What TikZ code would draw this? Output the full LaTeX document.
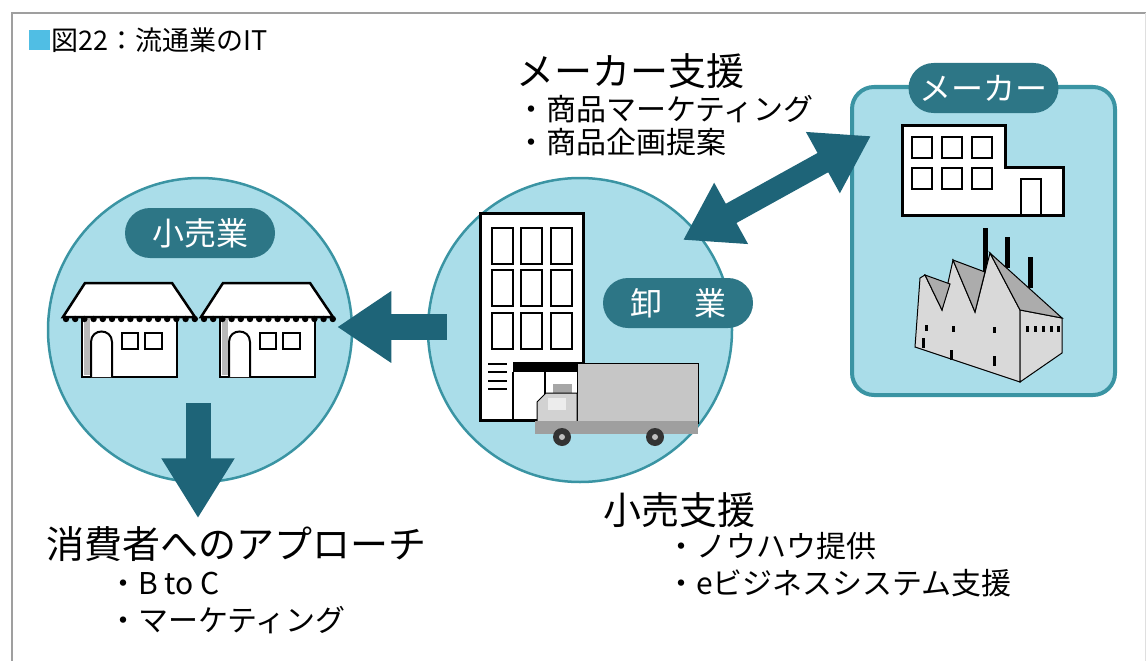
\documentclass[tikz,border=0pt]{standalone}
\usepackage{fontspec}
\setmainfont{Noto Sans CJK JP}
\usetikzlibrary{shapes,arrows,arrows.meta}

\definecolor{paleblue}{RGB}{170,221,233}
\definecolor{ringteal}{RGB}{58,148,163}
\definecolor{darkteal}{RGB}{30,100,120}
\definecolor{tagteal}{RGB}{45,118,134}
\definecolor{marker}{RGB}{80,190,228}

\tikzstyle{area} = [circle, draw=ringteal, line width=2.5pt, fill=paleblue,
    minimum size=304pt, inner sep=0pt]
\tikzstyle{plant} = [rectangle, draw=ringteal, line width=4pt, fill=paleblue,
    rounded corners=22pt, minimum width=263pt, minimum height=308pt]
\tikzstyle{tag} = [rectangle, fill=tagteal, text=white, rounded corners=25pt,
    minimum width=150pt, minimum height=50pt, inner sep=0pt, font=\fontsize{32}{32}\selectfont]
\tikzstyle{flow} = [draw=darkteal, line width=26pt, -{Triangle[length=54pt,width=68pt]}]
\tikzstyle{both} = [draw=darkteal, line width=22pt,
    {Triangle[length=55pt,width=66pt]}-{Triangle[length=55pt,width=66pt]}]
\tikzstyle{head} = [anchor=west, inner sep=0pt, font=\fontsize{38}{40}\selectfont]
\tikzstyle{item} = [anchor=west, inner sep=0pt, font=\fontsize{30}{32}\selectfont]
\tikzstyle{wall} = [draw=black, fill=white, line width=2.5pt]

\begin{document}
\begin{tikzpicture}[x=1pt, y=-1pt]
	\useasboundingbox (0,0) rectangle (1146,661);

	% frame and title
	\draw[gray!75, line width=2.5pt] (12,661) -- (12,13) -- (1146,13);
	\draw[gray!25, line width=1pt] (1145,13) -- (1145,661);
	\fill[marker] (29,30) rectangle (50,50);
	\node[anchor=west, inner sep=0pt, font=\fontsize{27}{27}\selectfont] (title) at (51,40) {図22：流通業のIT};

	% the three parties
	\node[area] (retail) at (200,330) {};
	\node[area] (wholesale) at (580,330) {};
	\node[plant] (maker) at (983.5,241) {};

	\coordinate (ws-port) at ([shift={(103pt,90pt)}]wholesale.center);
	\coordinate (mk-port) at ([shift={(21pt,105pt)}]maker.west);

	\path [flow] ([xshift=20pt, yshift=3pt]wholesale.west) -- ([xshift=-16pt, yshift=3pt]retail.east);
	\path [flow, line width=25pt, -{Triangle[length=60pt,width=69pt]}]
		([xshift=-2pt, yshift=80pt]retail.south) -- ([xshift=-2pt, yshift=-35pt]retail.south);
	\path [both] (ws-port) -- (mk-port);

	\node[tag, above of=retail, node distance=97pt] (retail-tag) {小売業};
	\node[tag] (ws-tag) at (678,303) {卸　業};
	\node[tag, above of=maker, node distance=153pt] (maker-tag) {メーカー};

	% shops
	\foreach \dx in {0,138} {
		\begin{scope}[xshift=\dx pt]
			\draw[wall] (82,317) rectangle (177,377);
			\fill[gray!55] (84,319) rectangle (90,375);
			\draw[black, line width=2pt, fill=white] (91,377) -- (91,342) .. controls (91,328) and (112,328) .. (112,342) -- (112,377);
			\draw[black, line width=2pt] (122,333) rectangle (138,349);
			\draw[black, line width=2pt] (145,333) rectangle (162,349);
			\draw[wall, line width=2.5pt] (85,283) -- (172,283) -- (195,317) -- (63,317) -- cycle;
			\foreach \k in {0,...,14}
				\fill (66+\k*9.2,319) circle (3.2pt);
		\end{scope}
	}

	% wholesale building
	\draw[wall, line width=3pt] (480,213) rectangle (583,420);
	\foreach \wx in {492,521,551}
		\foreach \wy in {228,270,313}
			\draw[black, line width=2pt] (\wx,\wy) rectangle ++(21,36);
	\fill (513,362) rectangle (583,372);
	\draw[line width=2pt] (513,372) -- (513,420) (545,372) -- (545,420);
	\foreach \sy in {364,372,381,389}
		\draw[line width=2pt] (488,\sy) -- (507,\sy);

	% truck
	\draw[fill=gray!45, line width=1pt] (577,363) rectangle (698,423);
	\fill[gray!70] (553,384) rectangle (572,393);
	\draw[fill=gray!35, line width=1pt] (537,423) -- (537,402) -- (546,393) -- (577,393) -- (577,423) -- cycle;
	\fill[gray!15] (548,398) rectangle (566,410);
	\fill[gray!75] (535,421) rectangle (698,434);
	\foreach \tx in {562,655} {
		\fill[black!80] (\tx,437) circle (9pt);
		\fill[gray!50] (\tx,437) circle (3pt);
	}

	% maker office
	\draw[wall, line width=3pt] (902,125) -- (1005,125) -- (1005,167) -- (1063,167) -- (1063,215) -- (902,215) -- cycle;
	\foreach \wx in {912,942,972}
		\foreach \wy in {137,168}
			\draw[black, line width=2pt] (\wx,\wy) rectangle ++(20,21);
	\draw[line width=2pt] (1021,179) rectangle (1041,215);

	% factory
	\draw[line width=5pt] (985,228) -- (985,278) (1007,237) -- (1007,268) (1030,257) -- (1030,288);
	\draw[fill=gray!30, line width=1pt] (915,347) -- (920,278) -- (925,275) -- (942,310) -- (953,260) -- (975,312)
		-- (990,253) -- (1020,310) -- (1020,382) -- cycle;
	\draw[fill=gray!30, line width=1pt] (1020,310) -- (1062,318) -- (1062,353) -- (1020,382) -- cycle;
	\draw[fill=gray!65, line width=1pt] (925,275) -- (950,284) -- (942,310) -- cycle;
	\draw[fill=gray!65, line width=1pt] (953,260) -- (985,272) -- (975,312) -- cycle;
	\draw[fill=gray!65, line width=1pt] (990,253) -- (1062,318) -- (1020,310) -- cycle;
	\foreach \fx/\fy in {925/325, 952/326, 993/327}
		\fill (\fx,\fy) rectangle ++(3,6);
	\foreach \fx/\fy in {922/338, 950/350, 993/356}
		\fill (\fx,\fy) rectangle ++(3,10);
	\foreach \fx in {1026,1034,1042,1050,1057}
		\fill (\fx,326) rectangle ++(3,6);

	% captions
	\node[head] (maker-help) at (516,71) {メーカー支援};
	\node[item] (maker-help-1) at (516,109) {・商品マーケティング};
	\node[item] (maker-help-2) at (516,142) {・商品企画提案};

	\node[head] (shop-help) at (603,510) {小売支援};
	\node[item] (shop-help-1) at (666,546) {・ノウハウ提供};
	\node[item] (shop-help-2) at (666,583) {・eビジネスシステム支援};

	\node[head] (consumer) at (46,544) {消費者へのアプローチ};
	\node[item] (consumer-1) at (108,583) {・B to C};
	\node[item] (consumer-2) at (108,620) {・マーケティング};
\end{tikzpicture}
\end{document}
